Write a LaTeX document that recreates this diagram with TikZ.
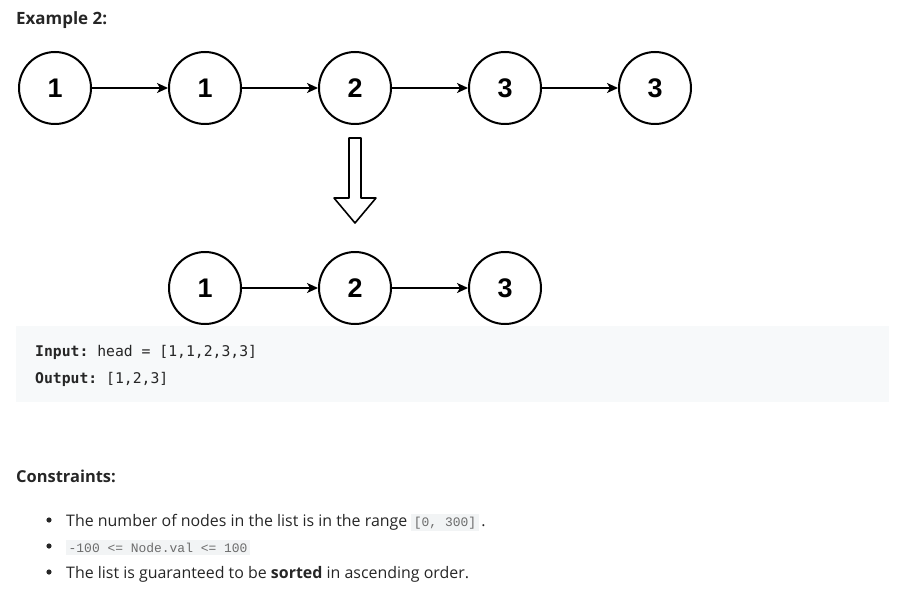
\documentclass[tikz,border=0pt]{standalone}
\usepackage{fontspec}
\setmainfont{Open Sans}
\setmonofont{DejaVu Sans Mono}
\newfontfamily\circfont{Liberation Sans}
\newfontfamily\codefont{Liberation Mono}
\usetikzlibrary{arrows.meta}
\usetikzlibrary{positioning}
\definecolor{codebg}{HTML}{F7F9FA}
\definecolor{inlinebg}{HTML}{F2F4F5}
\definecolor{textdark}{HTML}{262626}
\newcommand\inlinecode[1]{{\setlength\fboxsep{2.5bp}\colorbox{inlinebg}{\color{gray!85!black}\codefont\fontsize{13}{15}\selectfont #1}}}

\begin{document}
\begin{tikzpicture}[x=1bp,y=-1bp,line join=round,
	listnode/.style={circle,draw,line width=2bp,minimum size=72bp,inner sep=0pt,
		font=\circfont\bfseries\fontsize{27}{30}\selectfont},
	link/.style={-{Stealth[length=11bp,width=10bp,inset=3bp]},line width=1.6bp},
	txt/.style={anchor=base west,inner sep=0pt,text=textdark},
	codetxt/.style={txt,font=\ttfamily\fontsize{14.8}{17}\selectfont}]
	
	\useasboundingbox (0,0) rectangle (899,602);
	
	\node at (16,25) [txt,font=\bfseries\fontsize{17}{20}\selectfont] (Title) {Example 2:};
	
	% the list before
	\node at (55,88) [listnode] (A1) {1};
	\node at (205,88) [listnode] (A2) {1};
	\node at (355,88) [listnode] (A3) {2};
	\node at (505,88) [listnode] (A4) {3};
	\node at (655,88) [listnode] (A5) {3};
	
	\draw [link] (A1)--(A2);
	\draw [link] (A2)--(A3);
	\draw [link] (A3)--(A4);
	\draw [link] (A4)--(A5);
	
	% big hollow arrow
	\draw [line width=1.6bp,fill=white] (349,138)--(361,138)--(361,198)--(376,198)
		--(355,223)--(334,198)--(349,198)--cycle;
	
	% the list after
	\node at (205,288) [listnode] (B1) {1};
	\node at (355,288) [listnode] (B2) {2};
	\node at (505,288) [listnode] (B3) {3};
	
	\draw [link] (B1)--(B2);
	\draw [link] (B2)--(B3);
	
	% input / output box
	\fill [codebg] (16,326) rectangle (889,402);
	\node at (35,356) [codetxt] (Input) {\textbf{Input:} head = [1,1,2,3,3]};
	\node at (35,383) [codetxt] (Output) {\textbf{Output:} [1,2,3]};
	
	% constraints
	\node at (16,482) [txt,font=\bfseries\fontsize{16.5}{19}\selectfont] (Cons) {Constraints:};
	
	\fill [textdark] (49,520) circle (2.6);
	\fill [textdark] (49,546) circle (2.6);
	\fill [textdark] (49,572) circle (2.6);
	
	\node at (66,526) [txt,font=\fontsize{16}{19}\selectfont] (C1)
		{The number of nodes in the list is in the range \inlinecode{[0, 300]}\,.};
	\node at (66,552) [txt,font=\fontsize{16}{19}\selectfont] (C2)
		{\inlinecode{-100 <= Node.val <= 100}};
	\node at (66,578) [txt,font=\fontsize{16}{19}\selectfont] (C3)
		{The list is guaranteed to be \textbf{sorted} in ascending order.};
\end{tikzpicture}
\end{document}
